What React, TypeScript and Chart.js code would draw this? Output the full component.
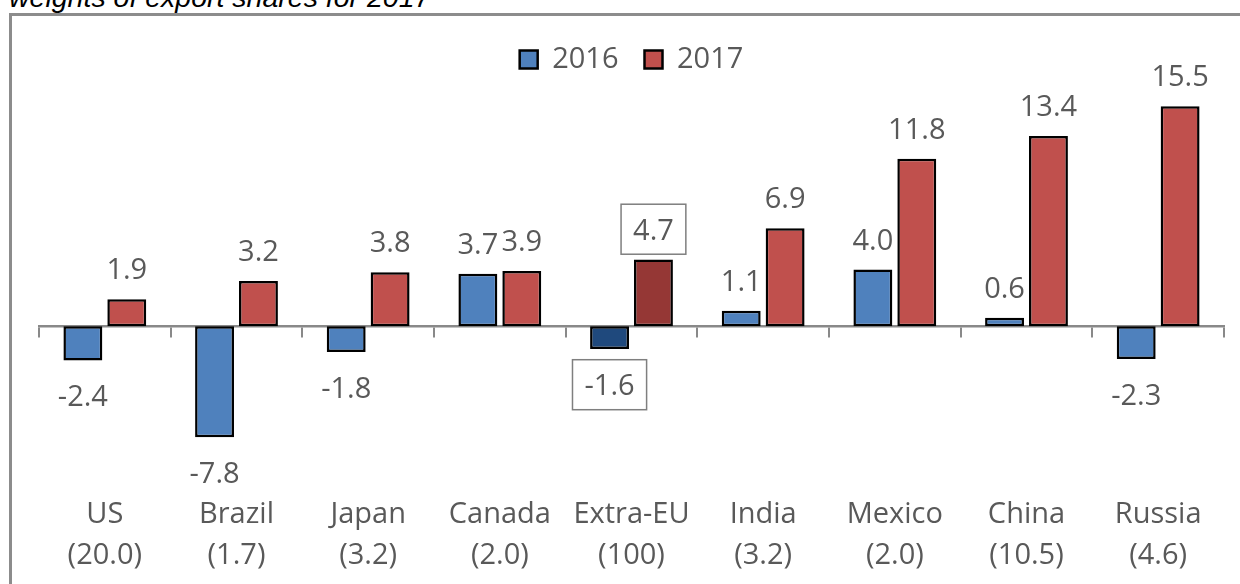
import { useEffect, useRef } from 'react';
import { Chart, registerables } from 'chart.js';

Chart.register(...registerables);

const titleText = 'weights of export shares for 2017';
const categories = ['US', 'Brazil', 'Japan', 'Canada', 'Extra-EU', 'India', 'Mexico', 'China', 'Russia'];
const weights = ['(20.0)', '(1.7)', '(3.2)', '(2.0)', '(100)', '(3.2)', '(2.0)', '(10.5)', '(4.6)'];
const seriesNames = ['2016', '2017'];
const values2016 = [-2.4, -7.8, -1.8, 3.7, -1.6, 1.1, 4.0, 0.6, -2.3];
const values2017 = [1.9, 3.2, 3.8, 3.9, 4.7, 6.9, 11.8, 13.4, 15.5];
const highlightIndex = 4;

const FONT = '"Open Sans", "Noto Sans", sans-serif';
const FS = 29;
const TEXT = '#595959';
const AXIS = '#898989';
const BLUE = '#4F81BD';
const BLUE_DARK = '#1F497D';
const RED = '#C0504D';
const RED_DARK = '#953735';

const valueLabels = {
  id: 'valueLabels',
  afterDatasetsDraw(chart: any) {
    const ctx = chart.ctx;
    ctx.save();
    ctx.font = `${FS}px ${FONT}`;
    ctx.textAlign = 'center';
    ctx.textBaseline = 'alphabetic';
    const capHalf = FS * 0.357;
    chart.data.datasets.forEach((ds: any, di: number) => {
      const meta = chart.getDatasetMeta(di);
      meta.data.forEach((el: any, i: number) => {
        const v = ds.data[i];
        const txt = v.toFixed(1);
        const baseline = v >= 0 ? el.y - 20 : el.y + 46;
        if (i === highlightIndex) {
          const w = ctx.measureText(txt).width + 24;
          const h = 50;
          const cy = baseline - capHalf;
          ctx.fillStyle = '#ffffff';
          ctx.fillRect(el.x - w / 2, cy - h / 2, w, h);
          ctx.strokeStyle = '#7f7f7f';
          ctx.lineWidth = 1.5;
          ctx.strokeRect(el.x - w / 2, cy - h / 2, w, h);
        }
        ctx.fillStyle = TEXT;
        ctx.fillText(txt, el.x, baseline);
      });
    });
    ctx.restore();
  },
};

export default function App() {
  const ref = useRef<HTMLCanvasElement>(null);

  useEffect(() => {
    document.body.style.margin = '0';
    const canvas = ref.current;
    if (!canvas) return;
    const chart = new Chart(canvas, {
      type: 'bar',
      data: {
        labels: categories.map((c, i) => [c, weights[i]]),
        datasets: [
          {
            label: seriesNames[0],
            data: values2016,
            backgroundColor: (c: any) => (c.dataIndex === highlightIndex ? BLUE_DARK : BLUE),
            borderColor: '#000000',
            borderWidth: 2.5,
            borderSkipped: false,
            categoryPercentage: 0.667,
            barPercentage: 0.886,
          },
          {
            label: seriesNames[1],
            data: values2017,
            backgroundColor: (c: any) => (c.dataIndex === highlightIndex ? RED_DARK : RED),
            borderColor: '#000000',
            borderWidth: 2.5,
            borderSkipped: false,
            categoryPercentage: 0.667,
            barPercentage: 0.886,
          },
        ],
      },
      options: {
        animation: false,
        responsive: false,
        maintainAspectRatio: false,
        layout: { padding: { left: 27, right: 16, top: 3, bottom: 0 } },
        plugins: {
          legend: {
            position: 'top',
            labels: {
              boxWidth: 18,
              boxHeight: 18,
              padding: 26,
              color: TEXT,
              font: { family: FONT, size: FS },
            },
          },
          tooltip: { enabled: false },
          title: { display: false },
        },
        scales: {
          y: {
            display: false,
            min: -11.24,
            max: 17.06,
          },
          x: {
            type: 'category',
            position: 'bottom',
            offset: true,
            grid: { display: false, drawTicks: false },
            border: { display: false },
            ticks: {
              padding: 8,
              color: TEXT,
              maxRotation: 0,
              autoSkip: false,
              font: { family: FONT, size: FS, lineHeight: 41 / FS },
            },
          },
          x2: {
            type: 'category',
            axis: 'x',
            position: { y: 0 },
            offset: true,
            grid: {
              display: true,
              drawOnChartArea: false,
              drawTicks: true,
              tickLength: 10,
              color: AXIS,
              lineWidth: 2,
              offset: true,
            },
            border: { display: true, color: AXIS, width: 2.5 },
            ticks: { display: false },
          },
        },
      },
      plugins: [valueLabels],
    });
    return () => chart.destroy();
  }, []);

  return (
    <div style={{ position: 'relative', width: 1240, height: 584, overflow: 'hidden', background: '#fff' }}>
      <div
        style={{
          position: 'absolute',
          left: 9,
          top: -18,
          fontFamily: '"Liberation Sans", Arial, sans-serif',
          fontStyle: 'italic',
          fontSize: 28.5,
          lineHeight: '30px',
          color: '#000',
          whiteSpace: 'nowrap',
        }}
      >
        {titleText}
      </div>
      <div
        style={{
          position: 'absolute',
          left: 9,
          top: 13,
          width: 1300,
          height: 700,
          border: '3px solid #8c8c8c',
          boxSizing: 'border-box',
        }}
      />
      <canvas
        ref={ref}
        width={1228}
        height={568}
        style={{ position: 'absolute', left: 12, top: 16, width: 1228, height: 568 }}
      />
    </div>
  );
}
